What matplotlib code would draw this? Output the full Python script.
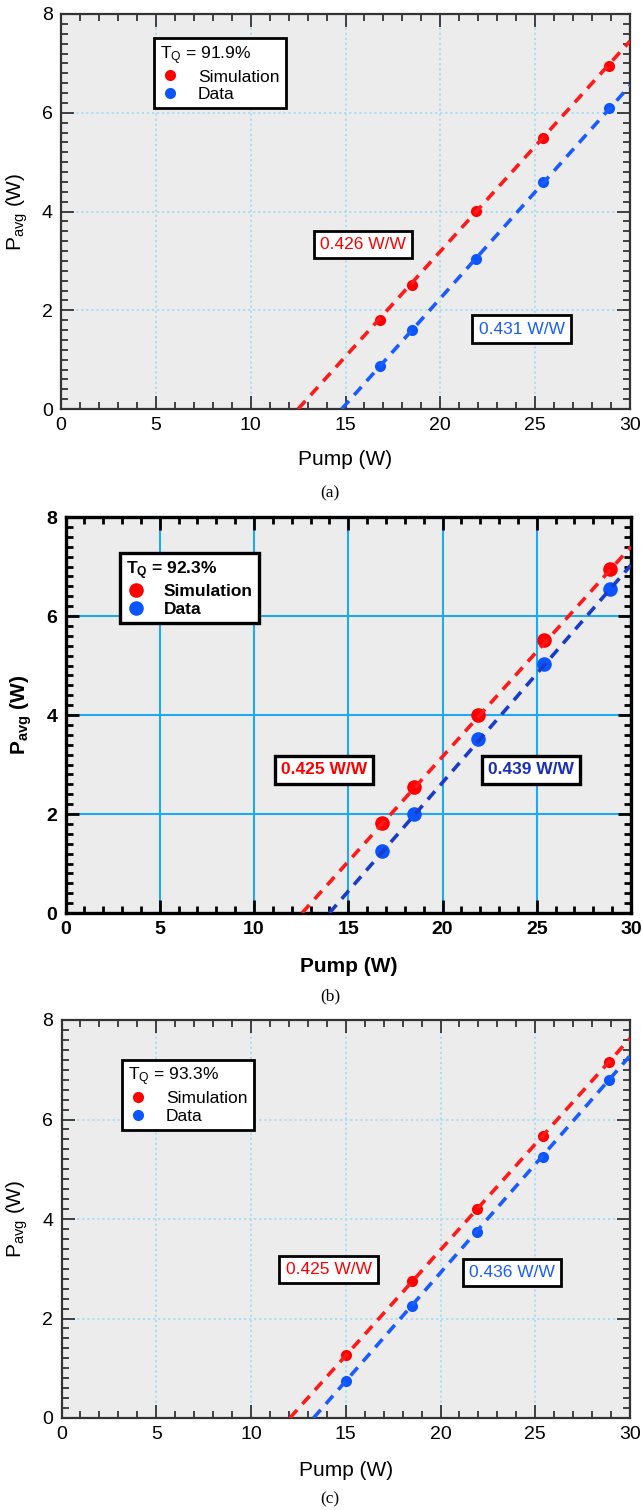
import matplotlib.pyplot as plt
from matplotlib.ticker import MultipleLocator

plt.rcParams['font.family'] = ['Liberation Sans', 'DejaVu Sans']
plt.rcParams['mathtext.fontset'] = 'custom'
plt.rcParams['mathtext.rm'] = 'Liberation Sans'
plt.rcParams['mathtext.it'] = 'Liberation Sans:italic'
plt.rcParams['mathtext.bf'] = 'Liberation Sans:bold'

# pump power (W) of the measured / simulated points
pump_ab = [16.8, 18.5, 21.9, 25.4, 28.9]
pump_c = [15.0, 18.5, 21.9, 25.4, 28.9]

# average output power (W)
sim_a = [1.80, 2.52, 4.02, 5.48, 6.95]
data_a = [0.88, 1.59, 3.04, 4.60, 6.10]
sim_b = [1.81, 2.55, 3.99, 5.52, 6.94]
data_b = [1.26, 2.00, 3.51, 5.04, 6.54]
sim_c = [1.26, 2.75, 4.21, 5.67, 7.16]
data_c = [0.75, 2.25, 3.73, 5.25, 6.79]

# linear fits, end points
fit_sim_a = ([12.5, 30], [0, 7.45])
fit_data_a = ([14.8, 30], [0, 6.55])
fit_sim_b = ([12.55, 30], [0, 7.40])
fit_data_b = ([14.0, 30], [0, 7.03])
fit_sim_c = ([12.05, 30], [0, 7.63])
fit_data_c = ([13.3, 30], [0, 7.28])

tq_labels = ['91.9%', '92.3%', '93.3%']
sim_slopes = ['0.426 W/W', '0.425 W/W', '0.425 W/W']
data_slopes = ['0.431 W/W', '0.439 W/W', '0.436 W/W']
captions = ['(a)', '(b)', '(c)']

W, H = 642, 1510
fig = plt.figure(figsize=(W / 100, H / 100), dpi=100)

panels = [
    dict(box=(61, 630, 14, 409), x=pump_ab, sim=sim_a, data=data_a,
         fsim=fit_sim_a, fdata=fit_data_a, bold=False,
         grid=dict(color='#a6dcf5', ls=(0, (1.2, 1.6)), lw=1.3),
         tcolor='#333333', spine_lw=1.6, tick_w=1.3, ms=8,
         blue_line='#1a5cff', blue_text='#1a5cff',
         leg=(0.163, 0.939), sim_pos=(15.92, 3.34), data_pos=(24.28, 1.62),
         xlab=0.129, ylab=-0.077, cap=493),
    dict(box=(65.5, 631, 517, 913), x=pump_ab, sim=sim_b, data=data_b,
         fsim=fit_sim_b, fdata=fit_data_b, bold=True,
         grid=dict(color='#1eaaf0', ls='-', lw=1.5),
         tcolor='black', spine_lw=2.4, tick_w=2.0, ms=10.5,
         blue_line='#1a3cc8', blue_text='#1a2fbf',
         leg=(0.096, 0.909), sim_pos=(13.71, 2.89), data_pos=(24.7, 2.89),
         xlab=0.136, ylab=-0.078, cap=996),
    dict(box=(61.5, 630, 1020, 1418), x=pump_c, sim=sim_c, data=data_c,
         fsim=fit_sim_c, fdata=fit_data_c, bold=False,
         grid=dict(color='#a6dcf5', ls=(0, (1.2, 1.6)), lw=1.3),
         tcolor='#333333', spine_lw=1.6, tick_w=1.3, ms=8,
         blue_line='#1a5cff', blue_text='#1a5cff',
         leg=(0.106, 0.90), sim_pos=(14.09, 2.99), data_pos=(23.77, 2.93),
         xlab=0.131, ylab=-0.078, cap=1499),
]

for i, p in enumerate(panels):
    l, r, t, b = p['box']
    ax = fig.add_axes([l / W, 1 - b / H, (r - l) / W, (b - t) / H])
    ax.set_facecolor('#ececec')
    weight = 'bold' if p['bold'] else 'normal'

    ax.plot(p['x'], p['sim'], 'o', color='#ff0000', ms=p['ms'], mec='none',
            label='Simulation', zorder=3)
    ax.plot(p['x'], p['data'], 'o', color='#0a55ff', ms=p['ms'], mec='none',
            label='Data', zorder=3)
    ax.plot(p['fsim'][0], p['fsim'][1], color='#ff1a1a', lw=2.6,
            dashes=(3, 2.2), zorder=4)
    ax.plot(p['fdata'][0], p['fdata'][1], color=p['blue_line'], lw=2.6,
            dashes=(3, 2.2), zorder=4)

    ax.set_xlim(0, 30)
    ax.set_ylim(0, 8)
    ax.xaxis.set_major_locator(MultipleLocator(5))
    ax.xaxis.set_minor_locator(MultipleLocator(1))
    ax.yaxis.set_major_locator(MultipleLocator(2))
    ax.yaxis.set_minor_locator(MultipleLocator(0.2))
    ax.tick_params(which='both', direction='in', top=True, right=True,
                   color=p['tcolor'], width=p['tick_w'])
    ax.tick_params(which='major', length=9.5, labelsize=14, pad=6)
    ax.tick_params(which='minor', length=5)
    for lab in ax.get_xticklabels() + ax.get_yticklabels():
        lab.set_fontweight(weight)
    for s in ax.spines.values():
        s.set_color(p['tcolor'])
        s.set_linewidth(p['spine_lw'])
    ax.grid(True, which='major', **p['grid'])
    ax.set_axisbelow(True)

    if p['bold']:
        ylabel = r'$\mathbf{P_{avg}}$ (W)'
        tq = r'$\mathbf{T_Q}$ = ' + tq_labels[i]
    else:
        ylabel = r'$\mathrm{P_{avg}}$ (W)'
        tq = r'$\mathrm{T_Q}$ = ' + tq_labels[i]
    ax.set_xlabel('Pump (W)', fontsize=15, fontweight=weight)
    ax.set_ylabel(ylabel, fontsize=15, fontweight=weight)
    ax.xaxis.set_label_coords(0.5, -p['xlab'])
    ax.xaxis.label.set_va('center')
    ax.yaxis.set_label_coords(p['ylab'], 0.5)
    ax.yaxis.label.set_va('center')

    leg = ax.legend(title=tq, loc='upper left', bbox_to_anchor=p['leg'],
                    borderaxespad=0, fancybox=False, framealpha=1,
                    edgecolor='black', alignment='left', handlelength=1.2,
                    handletextpad=1.0, labelspacing=0.15, borderpad=0.35,
                    prop=dict(size=12.5, weight=weight),
                    title_fontproperties=dict(size=12.5, weight=weight))
    leg.get_frame().set_linewidth(2.4 if p['bold'] else 2.0)
    leg.set_zorder(6)

    box = dict(boxstyle='square,pad=0.35', fc='white', ec='black',
               lw=2.4 if p['bold'] else 2.0)
    ax.text(p['sim_pos'][0], p['sim_pos'][1], sim_slopes[i], color='#ff0000',
            fontsize=12.5, fontweight=weight, ha='center', va='center',
            bbox=box, zorder=6)
    ax.text(p['data_pos'][0], p['data_pos'][1], data_slopes[i],
            color=p['blue_text'], fontsize=12.5, fontweight=weight,
            ha='center', va='center', bbox=box, zorder=6)

    fig.text(330 / W, 1 - p['cap'] / H, captions[i], ha='center', va='center',
             fontsize=12.5, family='Liberation Serif')

fig.savefig('out.png', dpi=100)
